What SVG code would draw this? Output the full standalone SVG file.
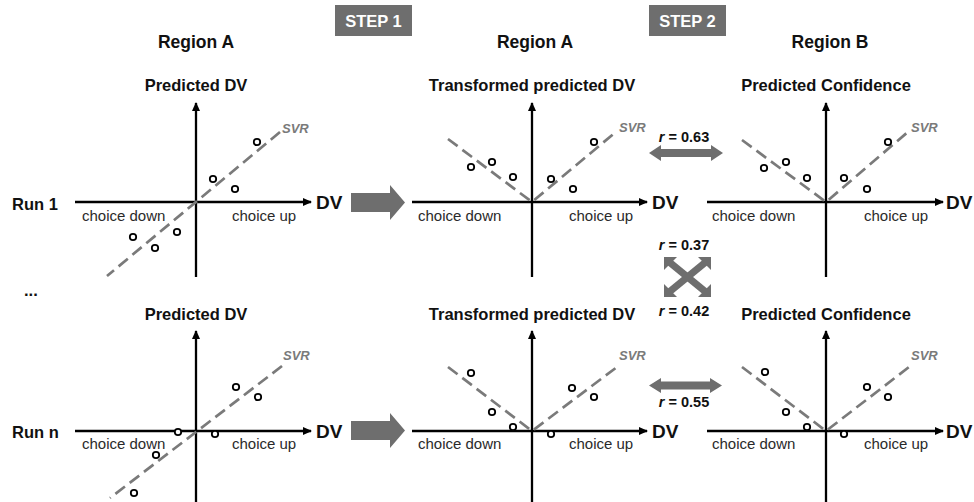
<svg xmlns="http://www.w3.org/2000/svg" width="974" height="502" viewBox="0 0 974 502">
<defs>
<style>
text{font-family:"Liberation Sans",Arial,sans-serif;fill:#111}
.hd{font-size:17.5px;font-weight:bold;text-anchor:middle}
.yl{font-size:16.5px;font-weight:bold;text-anchor:middle}
.run{font-size:16.5px;font-weight:bold}
.dv{font-size:19px;font-weight:bold}
.ch{font-size:15px;fill:#2a2a2a}
.svr{font-size:13px;font-weight:bold;font-style:italic;fill:#7a7a7a}
.rl{font-size:14.5px;font-weight:bold;text-anchor:middle}
.step{font-size:16.5px;font-weight:bold;fill:#fff;text-anchor:middle}
.ax{stroke:#000;stroke-width:2.3;fill:none}
.axh{stroke:#000;stroke-width:2.3;fill:none;marker-end:url(#ah)}
.fit{stroke:#7a7a7a;stroke-width:2.7;fill:none;stroke-dasharray:12 6}
.pt{fill:#fff;stroke:#000;stroke-width:1.8}
.big{fill:#6e6e6e}
.xl{stroke:#6e6e6e;stroke-width:7;fill:none}
</style>
<marker id="ah" markerUnits="userSpaceOnUse" markerWidth="10" markerHeight="8" refX="8" refY="4" orient="auto">
<path d="M0,0 L9,4 L0,8 z" fill="#000"/>
</marker>
</defs>

<g id="headers">
<text class="hd" x="196" y="48">Region A</text>
<text class="hd" x="535" y="48">Region A</text>
<text class="hd" x="830" y="48">Region B</text>
<text class="run" x="12" y="210">Run 1</text>
<text class="run" x="24" y="296">...</text>
<text class="run" x="12" y="438">Run n</text>
</g>

<g id="step1">
<rect x="335" y="5" width="77" height="31" fill="#6e6e6e"/>
<text class="step" x="373.5" y="27">STEP 1</text>
</g>
<g id="step2">
<rect x="649" y="5" width="77" height="31" fill="#6e6e6e"/>
<text class="step" x="687.5" y="27">STEP 2</text>
</g>

<g id="panel-run1-regionA">
<text class="yl" x="196" y="91">Predicted DV</text>
<line class="axh" x1="196" y1="277" x2="196" y2="103"/>
<line class="axh" x1="75" y1="202" x2="311" y2="202"/>
<text class="dv" x="316" y="209">DV</text>
<text class="ch" x="82" y="221">choice down</text>
<text class="ch" x="232" y="221">choice up</text>
<line class="fit" x1="280" y1="132" x2="107" y2="276"/>
<text class="svr" x="282" y="133">SVR</text>
<circle class="pt" cx="257" cy="142" r="3.2"/>
<circle class="pt" cx="213" cy="179" r="3.2"/>
<circle class="pt" cx="235" cy="189" r="3.2"/>
<circle class="pt" cx="133" cy="237" r="3.2"/>
<circle class="pt" cx="177" cy="232" r="3.2"/>
<circle class="pt" cx="155" cy="248" r="3.2"/>
</g>

<g id="panel-run1-regionA-transformed">
<text class="yl" x="532" y="91">Transformed predicted DV</text>
<line class="axh" x1="532" y1="277" x2="532" y2="103"/>
<line class="axh" x1="412" y1="202" x2="647" y2="202"/>
<text class="dv" x="652" y="209">DV</text>
<text class="ch" x="418" y="221">choice down</text>
<text class="ch" x="569" y="221">choice up</text>
<polyline class="fit" points="448,139 532,202 617,131"/>
<text class="svr" x="619" y="132">SVR</text>
<circle class="pt" cx="471" cy="167" r="3.2"/>
<circle class="pt" cx="492" cy="162" r="3.2"/>
<circle class="pt" cx="513" cy="177" r="3.2"/>
<circle class="pt" cx="551" cy="179" r="3.2"/>
<circle class="pt" cx="573" cy="189" r="3.2"/>
<circle class="pt" cx="594" cy="142" r="3.2"/>
</g>

<g id="panel-run1-regionB">
<text class="yl" x="826" y="91">Predicted Confidence</text>
<line class="axh" x1="826" y1="277" x2="826" y2="103"/>
<line class="axh" x1="707" y1="202" x2="943" y2="202"/>
<text class="dv" x="946" y="209">DV</text>
<text class="ch" x="712" y="221">choice down</text>
<text class="ch" x="864" y="221">choice up</text>
<polyline class="fit" points="742,140 826,202 909,131"/>
<text class="svr" x="911" y="132">SVR</text>
<circle class="pt" cx="764" cy="168" r="3.2"/>
<circle class="pt" cx="786" cy="162" r="3.2"/>
<circle class="pt" cx="807" cy="178" r="3.2"/>
<circle class="pt" cx="844" cy="178" r="3.2"/>
<circle class="pt" cx="867" cy="189" r="3.2"/>
<circle class="pt" cx="888" cy="142" r="3.2"/>
</g>

<g id="panel-runn-regionA">
<text class="yl" x="196" y="320">Predicted DV</text>
<line class="axh" x1="196" y1="502" x2="196" y2="331"/>
<line class="axh" x1="75" y1="431" x2="311" y2="431"/>
<text class="dv" x="316" y="438">DV</text>
<text class="ch" x="82" y="449">choice down</text>
<text class="ch" x="232" y="449">choice up</text>
<line class="fit" x1="282" y1="366" x2="110" y2="498"/>
<text class="svr" x="283" y="360">SVR</text>
<circle class="pt" cx="236" cy="387" r="3.2"/>
<circle class="pt" cx="258" cy="397" r="3.2"/>
<circle class="pt" cx="178" cy="432" r="3.2"/>
<circle class="pt" cx="215" cy="434" r="3.2"/>
<circle class="pt" cx="156" cy="455" r="3.2"/>
<circle class="pt" cx="134" cy="493" r="3.2"/>
</g>

<g id="panel-runn-regionA-transformed">
<text class="yl" x="532" y="320">Transformed predicted DV</text>
<line class="axh" x1="532" y1="502" x2="532" y2="331"/>
<line class="axh" x1="412" y1="431" x2="647" y2="431"/>
<text class="dv" x="652" y="438">DV</text>
<text class="ch" x="418" y="449">choice down</text>
<text class="ch" x="569" y="449">choice up</text>
<polyline class="fit" points="448,367 532,431 617,367"/>
<text class="svr" x="619" y="360">SVR</text>
<circle class="pt" cx="471" cy="373" r="3.2"/>
<circle class="pt" cx="492" cy="412" r="3.2"/>
<circle class="pt" cx="513" cy="427" r="3.2"/>
<circle class="pt" cx="551" cy="434" r="3.2"/>
<circle class="pt" cx="572" cy="388" r="3.2"/>
<circle class="pt" cx="594" cy="397" r="3.2"/>
</g>

<g id="panel-runn-regionB">
<text class="yl" x="826" y="320">Predicted Confidence</text>
<line class="axh" x1="826" y1="502" x2="826" y2="331"/>
<line class="axh" x1="707" y1="431" x2="943" y2="431"/>
<text class="dv" x="946" y="438">DV</text>
<text class="ch" x="712" y="449">choice down</text>
<text class="ch" x="864" y="449">choice up</text>
<polyline class="fit" points="742,367 826,431 909,367"/>
<text class="svr" x="911" y="360">SVR</text>
<circle class="pt" cx="765" cy="372" r="3.2"/>
<circle class="pt" cx="786" cy="412" r="3.2"/>
<circle class="pt" cx="807" cy="427" r="3.2"/>
<circle class="pt" cx="844" cy="434" r="3.2"/>
<circle class="pt" cx="867" cy="387" r="3.2"/>
<circle class="pt" cx="888" cy="397" r="3.2"/>
</g>

<g id="connectors">
<polygon class="big" points="351,193 390,193 390,185 405,202.5 390,220 390,212 351,212"/>
<polygon class="big" points="351,421 390,421 390,413 405,430.5 390,448 390,440 351,440"/>
<polygon class="big" points="649,153 661,145 661,149 711,149 711,145 723,153 711,161 711,157 661,157 661,161"/>
<text class="rl" x="684" y="142"><tspan font-style="italic">r</tspan> = 0.63</text>
<polygon class="big" points="649,385.5 661,378 661,381.5 710,381.5 710,378 722,385.5 710,393 710,389.5 661,389.5 661,393"/>
<text class="rl" x="684" y="407"><tspan font-style="italic">r</tspan> = 0.55</text>
<line class="xl" x1="668" y1="261" x2="707" y2="293"/>
<line class="xl" x1="707" y1="261" x2="668" y2="293"/>
<polygon class="big" points="664,257 677,257 664,270"/>
<polygon class="big" points="711,257 698,257 711,270"/>
<polygon class="big" points="664,297 677,297 664,284"/>
<polygon class="big" points="711,297 698,297 711,284"/>
<text class="rl" x="684" y="250"><tspan font-style="italic">r</tspan> = 0.37</text>
<text class="rl" x="684" y="316"><tspan font-style="italic">r</tspan> = 0.42</text>
</g>
</svg>
